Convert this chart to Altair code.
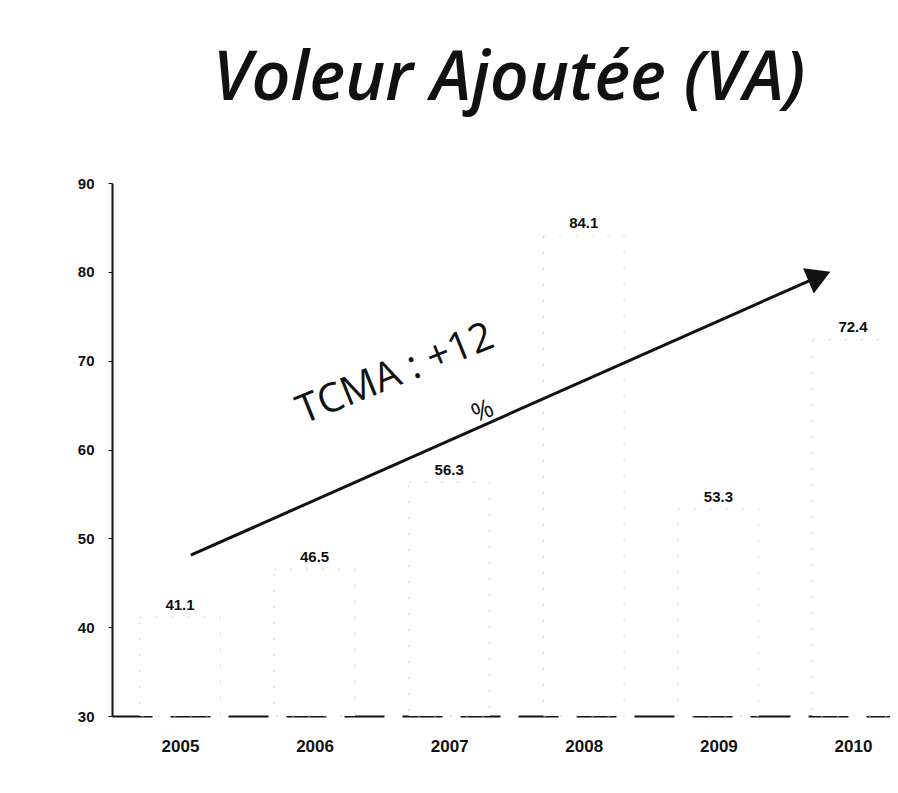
import altair as alt
import pandas as pd

years = [2005, 2006, 2007, 2008, 2009, 2010]
values = [41.1, 46.5, 56.3, 84.1, 53.3, 72.4]
labels = ["41.1", "46.5", "56.3", "84.1", "53.3", "72.4"]
y_ticks = [30, 40, 50, 60, 70, 80, 90]

# TCMA arrow annotation (data coordinates)
arrow_start = {"x": 2005.08, "y": 48.1}
arrow_end = {"x": 2009.75, "y": 79.5}
tcma_text = "TCMA : +12"
tcma_pct = "%"

df = pd.DataFrame({"year": years, "value": values, "label": labels})
df["x1"] = df["year"] - 0.3
df["x2"] = df["year"] + 0.3

xscale = alt.Scale(domain=[2004.495, 2010.275], nice=False, zero=False)
yscale = alt.Scale(domain=[30, 90], nice=False, zero=False)

bars = alt.Chart(df).mark_bar(fill="#ffffff", stroke="#d0d0d0", strokeDash=[2, 14], strokeWidth=1).encode(
    x=alt.X("x1:Q", scale=xscale,
            axis=alt.Axis(values=years, format="d", title=None, grid=False, ticks=False,
                          domainColor="#111111", domainWidth=2, domainDash=[40, 18],
                          labelFont="Liberation Sans", labelFontWeight="bold", labelFontSize=17,
                          labelColor="#111111", labelPadding=22)),
    x2="x2:Q",
    y=alt.Y("value:Q", scale=yscale,
            axis=alt.Axis(values=y_ticks, title=None, grid=False, ticks=True, tickSize=4,
                          tickColor="#111111", domainColor="#111111", domainWidth=2,
                          labelFont="Liberation Sans", labelFontWeight="bold", labelFontSize=15,
                          labelColor="#111111", labelPadding=14)),
    y2=alt.datum(30),
)

text = alt.Chart(df).mark_text(font="Liberation Sans", fontWeight="bold", fontSize=15,
                               color="#111111", dy=-12).encode(
    x=alt.X("year:Q", scale=xscale),
    y=alt.Y("value:Q", scale=yscale),
    text="label:N",
)

arrow_df = pd.DataFrame([{"x": arrow_start["x"], "y": arrow_start["y"],
                          "x2": arrow_end["x"], "y2": arrow_end["y"]}])
arrow = alt.Chart(arrow_df).mark_rule(color="#111111", strokeWidth=3).encode(
    x=alt.X("x:Q", scale=xscale), y=alt.Y("y:Q", scale=yscale),
    x2="x2:Q", y2="y2:Q",
)
head = alt.Chart(pd.DataFrame([arrow_end])).mark_point(
    shape="triangle-right", filled=True, color="#111111", size=750, angle=337, opacity=1
).encode(x=alt.X("x:Q", scale=xscale), y=alt.Y("y:Q", scale=yscale))

ann_df = pd.DataFrame([
    {"x": 2006.6, "y": 68.5, "t": tcma_text, "s": 40},
    {"x": 2007.25, "y": 64.3, "t": tcma_pct, "s": 26},
])
ann = alt.Chart(ann_df).mark_text(font="Open Sans", color="#111111", angle=338).encode(
    x=alt.X("x:Q", scale=xscale), y=alt.Y("y:Q", scale=yscale),
    text="t:N", size=alt.Size("s:Q", scale=None, legend=None),
)

chart = alt.layer(bars, text, arrow, head, ann).properties(
    width=778, height=533,
    title=alt.TitleParams("Voleur Ajoutée (VA)", font="Open Sans", fontSize=68,
                          fontStyle="italic", fontWeight=600, color="#111111",
                          anchor="middle", offset=62, dx=8),
    autosize=alt.AutoSizeParams(type="none"),
    padding={"left": 104, "top": 175, "right": 0, "bottom": 70},
).configure_view(stroke=None)

chart.save("out.html", embed_options={"renderer": "svg", "actions": False})
